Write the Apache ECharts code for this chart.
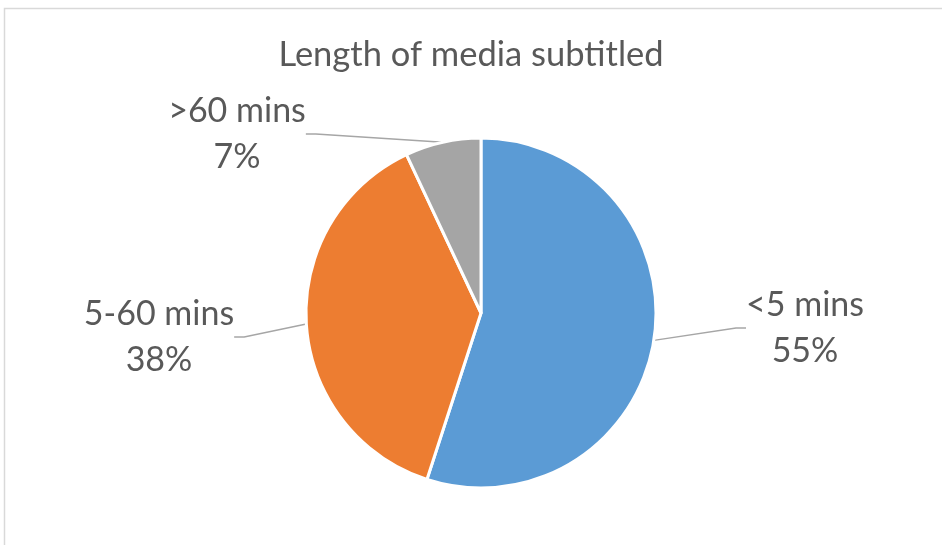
<!DOCTYPE html>
<html><head><meta charset="utf-8">
<script src="https://cdn.jsdelivr.net/npm/echarts@6/dist/echarts.min.js"></script>
<style>html,body{margin:0;padding:0;background:#fff}#c{width:942px;height:545px}</style>
</head><body><div id="c"></div>
<script>
const titleText = 'Length of media subtitled';
const categories = ['<5 mins', '5-60 mins', '>60 mins'];
const values = [55, 38, 7];
const colors = ['#5B9BD5', '#ED7D31', '#A5A5A5'];
const labelPos = [[805, 328], [159, 337], [237, 134]];

const chart = echarts.init(document.getElementById('c'));
const FONT = 'Lato';
chart.setOption({
  animation: false,
  graphic: [{
    type: 'rect', silent: true,
    shape: {x: 4.5, y: 8.5, width: 1200, height: 1200},
    style: {fill: 'none', stroke: '#D9D9D9', lineWidth: 1.5}
  }],
  title: {
    text: titleText, left: 'center', top: 32,
    textStyle: {fontFamily: FONT, fontSize: 34.5, fontWeight: 'normal', color: '#595959'}
  },
  series: [{
    type: 'pie',
    center: [481, 313],
    radius: [0, 175],
    startAngle: 90,
    clockwise: true,
    percentPrecision: 0,
    data: categories.map((c, i) => ({name: c, value: values[i], itemStyle: {color: colors[i]}})),
    itemStyle: {borderColor: '#fff', borderWidth: 3},
    label: {
      show: true, position: 'outside',
      formatter: '{b}\n{d}%',
      fontFamily: FONT, fontSize: 34, lineHeight: 46, color: '#595959', align: 'center'
    },
    labelLine: {show: true, length: 20, length2: 10, lineStyle: {color: '#A6A6A6', width: 1.5}},
    labelLayout: function (p) {
      const pos = labelPos[p.dataIndex];
      return {x: pos[0], y: pos[1], align: 'center', verticalAlign: 'middle'};
    },
    emphasis: {disabled: true}
  }]
});
</script></body></html>
